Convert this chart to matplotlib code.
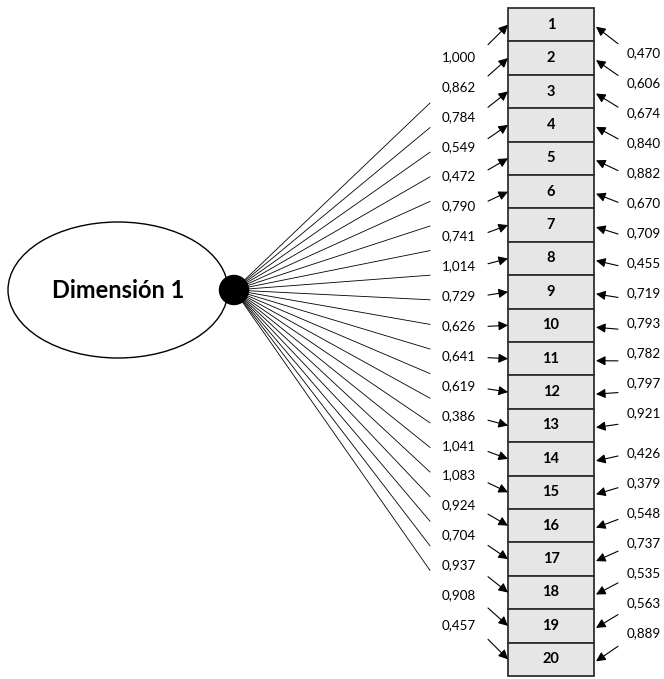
import numpy as np
import matplotlib.pyplot as plt
from matplotlib.patches import Ellipse, Circle, Rectangle

# item numbers, factor loadings (left) and error values (right)
items = [str(i) for i in range(1, 21)]
loadings = ["1,000", "0,862", "0,784", "0,549", "0,472", "0,790", "0,741", "1,014", "0,729", "0,626",
            "0,641", "0,619", "0,386", "1,041", "1,083", "0,924", "0,704", "0,937", "0,908", "0,457"]
errors = ["0,470", "0,606", "0,674", "0,840", "0,882", "0,670", "0,709", "0,455", "0,719", "0,793",
          "0,782", "0,797", "0,921", "0,426", "0,379", "0,548", "0,737", "0,535", "0,563", "0,889"]
factor = "Dimensión 1"

plt.rcParams['font.family'] = ['Lato', 'DejaVu Sans']

W, H = 664, 679
fig = plt.figure(figsize=(W / 100, H / 100), dpi=100)
ax = fig.add_axes([0, 0, 1, 1])
ax.set_xlim(0, W)
ax.set_ylim(H, 0)
ax.axis('off')

n = len(items)
box_x0, box_x1 = 508, 594
box_top, box_h = 8, 33.4

# factor ellipse and node
ax.add_patch(Ellipse((118, 290), 220, 136, fc='white', ec='black', lw=1.0))
ax.text(118, 290, factor, ha='center', va='center', fontsize=17, fontweight='bold')
node = (234, 290)

# lines from the node fanning out
for j in range(n):
    ax.plot([node[0], 430], [node[1], 103 + j * 24.6], color='black', lw=0.6, zorder=1)
ax.add_patch(Circle(node, 14.5, fc='black', ec='black', zorder=3))

# item boxes
for i, lab in enumerate(items):
    y0 = box_top + i * box_h
    ax.add_patch(Rectangle((box_x0, y0), box_x1 - box_x0, box_h,
                           fc='#e6e6e6', ec='#303030', lw=1.3))
    ax.text((box_x0 + box_x1) / 2, y0 + box_h / 2, lab, ha='center', va='center',
            fontsize=10.5, fontweight='bold')

arrow = dict(arrowstyle='-|>', color='black', lw=0.8,
             mutation_scale=14, shrinkA=0, shrinkB=0)

# loading labels and arrows on the left
for i, val in enumerate(loadings):
    ax.text(442, 57 + i * 29.9, val, ha='left', va='center', fontsize=9.6)
    cy = box_top + i * box_h + box_h / 2
    dy = 20 - i * 40 / (n - 1)
    ax.annotate('', xy=(box_x0, cy), xytext=(488, cy + dy), arrowprops=arrow)

# error labels and arrows on the right
for i, val in enumerate(errors):
    ly = 53 + i * 30 if i < 13 else 453 + (i - 13) * 30
    ax.text(627, ly, val, ha='left', va='center', fontsize=9.6)
    cy = box_top + i * box_h + box_h / 2 + 2
    dy = 17 - i * 32 / (n - 1)
    ax.annotate('', xy=(box_x1 + 2, cy), xytext=(618, cy + dy), arrowprops=arrow)

fig.savefig("out.png", dpi=100, facecolor='white')
